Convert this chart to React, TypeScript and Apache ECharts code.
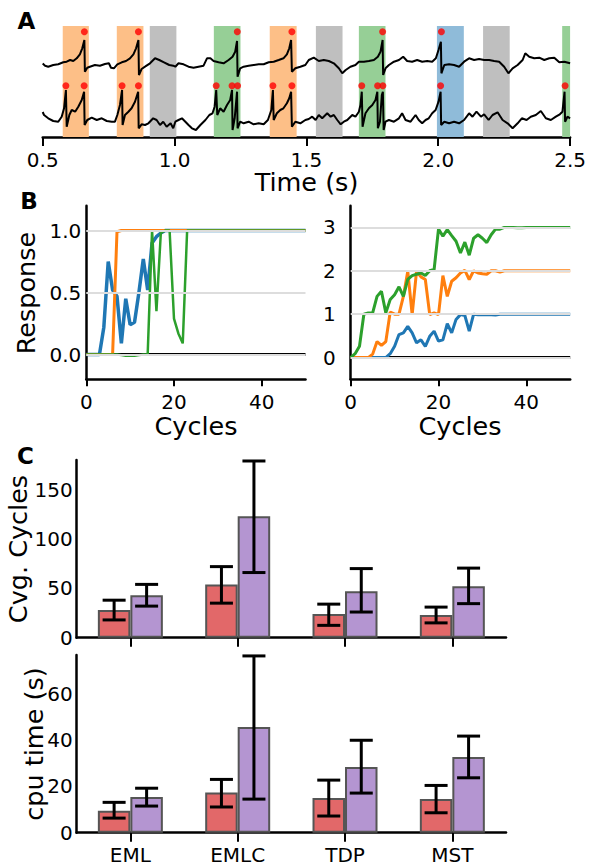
import React, { useEffect, useRef } from "react";
import * as echarts from "echarts";

// ---------- Panel A data ----------
const timeTicks = [0.5, 1.0, 1.5, 2.0, 2.5];
const spansOrange = [[0.576, 0.675], [0.781, 0.882], [1.361, 1.463]];
const spansGray = [[0.906, 1.007], [1.536, 1.637], [2.17, 2.271]];
const spansGreen = [[1.149, 1.25], [1.699, 1.8], [2.47, 2.5]];
const spansBlue = [[1.995, 2.097]];

const traceTop: number[][] = [
  [0.5, 73.5], [0.509, 71.3], [0.521, 70.3], [0.54, 72], [0.559, 72.7], [0.578, 74.7], [0.591, 75.3], [0.604, 77], [0.616, 76], [0.629, 78.7], [0.641, 82.7], [0.65, 88.7], [0.658, 97], [0.66, 65.3], [0.669, 69.3], [0.679, 70.3], [0.698, 72], [0.717, 71.3], [0.736, 73], [0.751, 73.7], [0.759, 69.3], [0.77, 68.7], [0.783, 72.7], [0.8, 74.7], [0.816, 76], [0.831, 78.7], [0.844, 82.7], [0.854, 88.7], [0.863, 97], [0.865, 62], [0.875, 68], [0.888, 70.3], [0.907, 73.7], [0.926, 78.7], [0.942, 77], [0.96, 74.7], [0.98, 72], [0.995, 71.3],
  [1.003, 70.3], [1.015, 73.7], [1.034, 72.7], [1.053, 70.3], [1.072, 69.3], [1.091, 70.3], [1.11, 71.3], [1.123, 78.7], [1.136, 78.7], [1.148, 76], [1.167, 74.7], [1.186, 73.7], [1.205, 77], [1.22, 80.3], [1.23, 85.3], [1.237, 96], [1.239, 60.3], [1.249, 68.7], [1.262, 70.3], [1.281, 71.3], [1.3, 72], [1.319, 72.7], [1.338, 72.7], [1.357, 74.7], [1.376, 75.3], [1.395, 77], [1.413, 78.7], [1.426, 82.7], [1.435, 88.7], [1.442, 97], [1.445, 65.3], [1.458, 68.7], [1.477, 70.3], [1.496, 72],
  [1.509, 77], [1.528, 79.3], [1.547, 76], [1.566, 77], [1.585, 76], [1.604, 73.7], [1.623, 68.7], [1.636, 63.7], [1.649, 67], [1.667, 70.3], [1.686, 72], [1.699, 75.3], [1.718, 75.3], [1.737, 76], [1.756, 77], [1.771, 80.3], [1.781, 85.3], [1.789, 97], [1.791, 62], [1.8, 68.7], [1.813, 72], [1.832, 75.3], [1.851, 77], [1.867, 80.3], [1.882, 76], [1.901, 75.3], [1.92, 77], [1.939, 75.3], [1.958, 76], [1.977, 75.3], [1.991, 78.7],
  [2.001, 87], [2.01, 95.3], [2.012, 63.7], [2.023, 72], [2.041, 72.7], [2.06, 72], [2.079, 70.3], [2.098, 75.3], [2.117, 78.7], [2.136, 77], [2.155, 78], [2.174, 77], [2.193, 77], [2.212, 76], [2.231, 75.3], [2.25, 70.3], [2.266, 63.7], [2.282, 68.7], [2.301, 72], [2.32, 77], [2.33, 83.7], [2.345, 80.3], [2.364, 78.7], [2.383, 79.3], [2.402, 77], [2.421, 78.7], [2.44, 79.3], [2.459, 74.7], [2.478, 75.3], [2.5, 73.7],
];

const traceBottom: number[][] = [
  [0.5, 25], [0.505, 22], [0.521, 18.7], [0.54, 16], [0.559, 15.3], [0.572, 20.3], [0.581, 28.7], [0.588, 47], [0.591, 10.3], [0.601, 22], [0.61, 27], [0.623, 25.3], [0.635, 30.3], [0.648, 37], [0.657, 45.3], [0.659, 12], [0.669, 17], [0.686, 19.3], [0.705, 17], [0.724, 18.7], [0.743, 16], [0.762, 15.3], [0.774, 15.3], [0.783, 22], [0.793, 32], [0.801, 47], [0.803, 12], [0.812, 22], [0.825, 25.3], [0.837, 28.7], [0.85, 35.3], [0.862, 45.3], [0.864, 8.7], [0.875, 12.7], [0.888, 12], [0.901, 13.7], [0.919, 18.7], [0.932, 17], [0.945, 12], [0.957, 15.3], [0.97, 10.3], [0.985, 13.7], [0.995, 8.7],
  [1.003, 15.3], [1.015, 17], [1.028, 18.7], [1.041, 15.3], [1.053, 12], [1.066, 8.7], [1.081, 7], [1.098, 12], [1.117, 17], [1.132, 22], [1.144, 23.7], [1.152, 30.3], [1.158, 47], [1.162, 22], [1.173, 28.7], [1.186, 25.3], [1.199, 32], [1.211, 37], [1.218, 47], [1.22, 7], [1.228, 18.7], [1.237, 45.3], [1.239, 8.7], [1.249, 15.3], [1.262, 13.7], [1.281, 15.3], [1.3, 12.7], [1.319, 13.7], [1.338, 12.7], [1.354, 17], [1.367, 27], [1.373, 47], [1.376, 17], [1.388, 23.7], [1.401, 27], [1.413, 28.7], [1.426, 33.7], [1.435, 38.7], [1.442, 45.3], [1.445, 10.3], [1.458, 15.3], [1.477, 13.7], [1.496, 17],
  [1.509, 18], [1.522, 20.3], [1.535, 17], [1.547, 22], [1.56, 18.7], [1.579, 23.7], [1.592, 20.3], [1.604, 22], [1.617, 17], [1.63, 12.7], [1.642, 15.3], [1.655, 17], [1.674, 22], [1.686, 20.3], [1.699, 25.3], [1.705, 32], [1.71, 45.3], [1.713, 10.3], [1.724, 23.7], [1.737, 28.7], [1.75, 32], [1.762, 37], [1.769, 45.3], [1.771, 8.7], [1.779, 15.3], [1.786, 42], [1.79, 45.3], [1.793, 7], [1.8, 15.3], [1.813, 17], [1.832, 15.3], [1.851, 18.7], [1.863, 23.7], [1.876, 17], [1.895, 15.3], [1.914, 22], [1.926, 17], [1.939, 13.7], [1.952, 17], [1.964, 18.7], [1.977, 23.7], [1.99, 27],
  [2.001, 35.3], [2.009, 45.3], [2.011, 12], [2.023, 15.3], [2.041, 13.7], [2.06, 15.3], [2.079, 13.7], [2.098, 17], [2.117, 23.7], [2.13, 20.3], [2.145, 25.3], [2.162, 20.3], [2.174, 22.7], [2.191, 17], [2.206, 22], [2.225, 24.7], [2.244, 17], [2.263, 13.7], [2.282, 8.7], [2.301, 13.7], [2.317, 18.7], [2.335, 17], [2.351, 20.3], [2.37, 22], [2.389, 26], [2.408, 18.7], [2.427, 17], [2.446, 20.3], [2.461, 22.7], [2.471, 25.3], [2.479, 45.3], [2.481, 15.3], [2.49, 20.3], [2.5, 18.7],
];

const spikesTop = [0.658, 0.863, 1.238, 1.445, 1.789, 2.012];
const spikesBottom = [0.588, 0.657, 0.801, 0.863, 1.158, 1.218, 1.239, 1.373, 1.445, 1.71, 1.77, 1.79, 2.009, 2.481];
const dotLevelTop = 105.3;
const dotLevelBottom = 51.3;

// ---------- Panel B data (cycles 0..50) ----------
const cycleTicks = [0, 20, 40];
const leftTicks = [0, 0.5, 1.0];
const rightTicks = [0, 1, 2, 3];
const leftBlue = [0, 0, 0, 0, 0.22, 0.75, 0.52, 0.47, 0.09, 0.45, 0.24, 0.26, 0.5, 0.77, 0.52, 0.9, 0.95, 0.98, 1, 1, 1, 1, 1, 1, 1, 1, 1, 1, 1, 1, 1, 1, 1, 1, 1, 1, 1, 1, 1, 1, 1, 1, 1, 1, 1, 1, 1, 1, 1, 1, 1];
const leftOrange = [0, 0, 0, 0, 0, 0, 0, 0.99, 1, 1, 1, 1, 1, 1, 1, 1, 1, 1, 1, 1, 1, 1, 1, 1, 1, 1, 1, 1, 1, 1, 1, 1, 1, 1, 1, 1, 1, 1, 1, 1, 1, 1, 1, 1, 1, 1, 1, 1, 1, 1, 1];
const leftGreen = [0, 0, 0, 0, 0, 0, 0, 0, -0.005, -0.01, -0.01, -0.01, -0.005, 0, 0, 1, 0.35, 0.98, 1, 1, 0.29, 0.17, 0.09, 1, 1, 1, 1, 1, 1, 1, 1, 1, 1, 1, 1, 1, 1, 1, 1, 1, 1, 1, 1, 1, 1, 1, 1, 1, 1, 1, 1];
const rightBlue = [0, 0, 0, 0, 0, 0, 0, 0, 0, 0.09, 0.26, 0.53, 0.57, 0.72, 0.57, 0.34, 0.41, 0.26, 0.49, 0.61, 0.38, 0.41, 0.78, 0.57, 0.88, 0.99, 0.97, 0.61, 1, 0.99, 0.99, 0.99, 0.99, 0.98, 1, 1, 1, 1, 1, 1, 1, 1, 1, 1, 1, 1, 1, 1, 1, 1, 1];
const rightOrange = [0, 0, 0, 0, 0, 0.08, 0.37, 0.28, 0.37, 1.05, 1, 1, 1.41, 1.99, 0.99, 1.99, 1.86, 1.8, 0.99, 1.03, 0.99, 1.89, 1.41, 1.76, 1.84, 1.95, 2.01, 1.8, 2, 1.95, 1.93, 1.92, 2, 2, 1.97, 2, 2, 2, 2, 2, 2, 2, 2, 2, 2, 2, 2, 2, 2, 2, 2];
const rightGreen = [0, 0.09, 0.26, 1, 1.03, 1.03, 1.41, 1.53, 1.03, 1.34, 1.45, 1.63, 1.41, 1.8, 1.89, 1.92, 1.95, 1.89, 2, 2.03, 2.96, 2.8, 2.95, 2.81, 2.68, 2.41, 2.66, 2.36, 2.75, 2.83, 2.75, 2.65, 2.83, 2.96, 2.96, 3, 3, 3, 2.99, 2.99, 3, 3, 3, 3, 3, 3, 3, 3, 3, 3, 3];
const zeroLine = [[0, 0], [50, 0]];

// ---------- Panel C data ----------
const methods = ["EML", "EMLC", "TDP", "MST"];
const cyclesRed = [28, 54, 24, 23];
const cyclesRedLo = [18, 35, 12.5, 15];
const cyclesRedHi = [38, 72, 34, 31];
const cyclesPurple = [43, 123, 47, 52];
const cyclesPurpleLo = [32, 66, 26, 34.5];
const cyclesPurpleHi = [54, 179, 70, 70.5];
const cyclesTicks = [0, 50, 100, 150];
const cpuRed = [9.5, 17.3, 15, 14.5];
const cpuRedLo = [6.3, 11.1, 7.2, 8.6];
const cpuRedHi = [13.1, 23, 22.7, 20.4];
const cpuPurple = [15.4, 45.6, 28.4, 32.7];
const cpuPurpleLo = [11.5, 14.5, 17.1, 23.7];
const cpuPurpleHi = [19.2, 76.3, 39.9, 41.7];
const cpuTicks = [0, 20, 40, 60];

const FONT = "DejaVu Sans";
const TICK_FS = 20;
const LABEL_FS = 25.5;
const BAR_W = 32.5;

const C_BLUE = "#1f77b4";
const C_ORANGE = "#ff7f0e";
const C_GREEN = "#2ca02c";

function idx(arr: number[]) {
  return arr.map((v, i) => [i, v]);
}

function axisLineStyle() {
  return { show: true, onZero: false, lineStyle: { color: "#000", width: 2.5 } };
}

function errSeries(gi: number, lo: number[], hi: number[], sign: number) {
  return {
    type: "custom",
    xAxisIndex: gi,
    yAxisIndex: gi,
    z: 6,
    data: methods.map((_, i) => [i, lo[i], hi[i]]),
    renderItem: (_params: any, api: any) => {
      const i = api.value(0);
      const pLo = api.coord([i, api.value(1)]);
      const pHi = api.coord([i, api.value(2)]);
      const x = pLo[0] + (sign * BAR_W) / 2;
      const cap = 11.5;
      const st = { stroke: "#000", lineWidth: 3 };
      return {
        type: "group",
        children: [
          { type: "line", shape: { x1: x, y1: pLo[1], x2: x, y2: pHi[1] }, style: st },
          { type: "line", shape: { x1: x - cap, y1: pLo[1], x2: x + cap, y2: pLo[1] }, style: st },
          { type: "line", shape: { x1: x - cap, y1: pHi[1], x2: x + cap, y2: pHi[1] }, style: st },
        ],
      };
    },
  };
}

function spanData(spans: number[][], color: string) {
  return spans.map((s) => [{ xAxis: s[0], itemStyle: { color } }, { xAxis: s[1] }]);
}

function buildOption() {
  const tickLabel = { color: "#000", fontSize: TICK_FS, fontFamily: FONT, lineHeight: 18 };
  const text = (t: string, x: number, y: number, opts: any = {}) => ({
    type: "text",
    x,
    y,
    rotation: opts.rotation || 0,
    style: {
      text: t,
      fill: "#000",
      fontSize: opts.fontSize || LABEL_FS,
      fontFamily: FONT,
      fontWeight: opts.bold ? "bold" : "normal",
      textAlign: "center",
      textVerticalAlign: "middle",
    },
  });

  return {
    animation: false,
    backgroundColor: "#fff",
    grid: [
      { left: 42.7, top: 26, width: 527.6, height: 111 },
      { left: 86.3, top: 205.7, width: 219.2, height: 173.6 },
      { left: 350.7, top: 205.7, width: 219.5, height: 173.6 },
      { left: 76.7, top: 460, width: 429.3, height: 177.7 },
      { left: 76.7, top: 655, width: 429.3, height: 177.7 },
    ],
    xAxis: [
      {
        type: "value", gridIndex: 0, min: 0.5, max: 2.5,
        axisLine: axisLineStyle(),
        axisTick: { show: true, customValues: timeTicks, length: 9, lineStyle: { color: "#000", width: 2 } },
        axisLabel: { ...tickLabel, customValues: timeTicks, margin: 14, formatter: (v: number) => v.toFixed(1) },
        splitLine: { show: false },
      },
      {
        type: "value", gridIndex: 1, min: 0, max: 50,
        axisLine: axisLineStyle(),
        axisTick: { show: true, customValues: cycleTicks, length: 7, lineStyle: { color: "#000", width: 2 } },
        axisLabel: { ...tickLabel, customValues: cycleTicks, margin: 14 },
        splitLine: { show: false },
      },
      {
        type: "value", gridIndex: 2, min: 0, max: 50,
        axisLine: axisLineStyle(),
        axisTick: { show: true, customValues: cycleTicks, length: 7, lineStyle: { color: "#000", width: 2 } },
        axisLabel: { ...tickLabel, customValues: cycleTicks, margin: 14 },
        splitLine: { show: false },
      },
      {
        type: "category", gridIndex: 3, data: methods,
        axisLine: axisLineStyle(),
        axisTick: { show: true, alignWithLabel: true, length: 9, lineStyle: { color: "#000", width: 2 } },
        axisLabel: { show: false },
        splitLine: { show: false },
      },
      {
        type: "category", gridIndex: 4, data: methods,
        axisLine: axisLineStyle(),
        axisTick: { show: true, alignWithLabel: true, length: 9, lineStyle: { color: "#000", width: 2 } },
        axisLabel: { ...tickLabel, margin: 13 },
        splitLine: { show: false },
      },
    ],
    yAxis: [
      { type: "value", gridIndex: 0, min: 0, max: 111, show: false },
      {
        type: "value", gridIndex: 1, min: -0.2, max: 1.2,
        axisLine: axisLineStyle(),
        axisTick: { show: false },
        axisLabel: { ...tickLabel, customValues: leftTicks, margin: 5, formatter: (v: number) => v.toFixed(1) },
        splitLine: { show: false },
      },
      {
        type: "value", gridIndex: 2, min: -0.5, max: 3.5,
        axisLine: axisLineStyle(),
        axisTick: { show: false },
        axisLabel: { ...tickLabel, customValues: rightTicks, margin: 15 },
        splitLine: { show: false },
      },
      {
        type: "value", gridIndex: 3, min: 0, max: 180,
        axisLine: axisLineStyle(),
        axisTick: { show: false },
        axisLabel: { ...tickLabel, customValues: cyclesTicks, margin: 4 },
        splitLine: { show: false },
      },
      {
        type: "value", gridIndex: 4, min: 0, max: 76.7,
        axisLine: axisLineStyle(),
        axisTick: { show: false },
        axisLabel: { ...tickLabel, customValues: cpuTicks, margin: 4 },
        splitLine: { show: false },
      },
    ],
    series: [
      // Panel A
      {
        type: "line", xAxisIndex: 0, yAxisIndex: 0, data: [], z: 1,
        markArea: {
          silent: true,
          data: [
            ...spanData(spansOrange, "#fdbf87"),
            ...spanData(spansGray, "#bfbfbf"),
            ...spanData(spansGreen, "#96cf96"),
            ...spanData(spansBlue, "#8fbbd9"),
          ],
        },
      },
      {
        type: "line", xAxisIndex: 0, yAxisIndex: 0, data: traceTop, showSymbol: false, z: 3,
        lineStyle: { color: "#000", width: 2 },
      },
      {
        type: "line", xAxisIndex: 0, yAxisIndex: 0, data: traceBottom, showSymbol: false, z: 3,
        lineStyle: { color: "#000", width: 2 },
      },
      {
        type: "scatter", xAxisIndex: 0, yAxisIndex: 0, z: 4, symbolSize: 7,
        itemStyle: { color: "#ff0000" },
        data: [...spikesTop.map((t) => [t, dotLevelTop]), ...spikesBottom.map((t) => [t, dotLevelBottom])],
      },
      // Panel B left
      {
        type: "line", xAxisIndex: 1, yAxisIndex: 1, data: [], z: 1,
        markLine: {
          silent: true, symbol: "none", label: { show: false },
          lineStyle: { color: "#dddddd", width: 2, type: "solid" },
          data: leftTicks.map((v) => ({ yAxis: v })),
        },
      },
      { type: "line", xAxisIndex: 1, yAxisIndex: 1, data: zeroLine, showSymbol: false, z: 2, lineStyle: { color: "#000", width: 3 } },
      { type: "line", xAxisIndex: 1, yAxisIndex: 1, data: idx(leftBlue), showSymbol: false, z: 3, lineStyle: { color: C_BLUE, width: 3.5 } },
      { type: "line", xAxisIndex: 1, yAxisIndex: 1, data: idx(leftOrange), showSymbol: false, z: 3, lineStyle: { color: C_ORANGE, width: 3 } },
      { type: "line", xAxisIndex: 1, yAxisIndex: 1, data: idx(leftGreen), showSymbol: false, z: 3, lineStyle: { color: C_GREEN, width: 2.5 } },
      // Panel B right
      {
        type: "line", xAxisIndex: 2, yAxisIndex: 2, data: [], z: 1,
        markLine: {
          silent: true, symbol: "none", label: { show: false },
          lineStyle: { color: "#dddddd", width: 2, type: "solid" },
          data: rightTicks.map((v) => ({ yAxis: v })),
        },
      },
      { type: "line", xAxisIndex: 2, yAxisIndex: 2, data: zeroLine, showSymbol: false, z: 2, lineStyle: { color: "#000", width: 3 } },
      { type: "line", xAxisIndex: 2, yAxisIndex: 2, data: idx(rightBlue), showSymbol: false, z: 3, lineStyle: { color: C_BLUE, width: 3 } },
      { type: "line", xAxisIndex: 2, yAxisIndex: 2, data: idx(rightOrange), showSymbol: false, z: 3, lineStyle: { color: C_ORANGE, width: 3 } },
      { type: "line", xAxisIndex: 2, yAxisIndex: 2, data: idx(rightGreen), showSymbol: false, z: 3, lineStyle: { color: C_GREEN, width: 3 } },
      // Panel C top
      {
        type: "bar", xAxisIndex: 3, yAxisIndex: 3, data: cyclesRed, barWidth: BAR_W, barGap: "0%", z: 3,
        itemStyle: { color: "#e26869", borderColor: "#555", borderWidth: 2 },
      },
      {
        type: "bar", xAxisIndex: 3, yAxisIndex: 3, data: cyclesPurple, barWidth: BAR_W, barGap: "0%", z: 3,
        itemStyle: { color: "#b495d1", borderColor: "#555", borderWidth: 2 },
      },
      errSeries(3, cyclesRedLo, cyclesRedHi, -1),
      errSeries(3, cyclesPurpleLo, cyclesPurpleHi, 1),
      // Panel C bottom
      {
        type: "bar", xAxisIndex: 4, yAxisIndex: 4, data: cpuRed, barWidth: BAR_W, barGap: "0%", z: 3,
        itemStyle: { color: "#e26869", borderColor: "#555", borderWidth: 2 },
      },
      {
        type: "bar", xAxisIndex: 4, yAxisIndex: 4, data: cpuPurple, barWidth: BAR_W, barGap: "0%", z: 3,
        itemStyle: { color: "#b495d1", borderColor: "#555", borderWidth: 2 },
      },
      errSeries(4, cpuRedLo, cpuRedHi, -1),
      errSeries(4, cpuPurpleLo, cpuPurpleHi, 1),
    ],
    graphic: [
      text("A", 26.5, 21, { bold: true, fontSize: 23 }),
      text("B", 29, 201, { bold: true, fontSize: 23 }),
      text("C", 25.5, 456, { bold: true, fontSize: 23 }),
      text("Time (s)", 306.5, 182),
      text("Response", 25.5, 293, { rotation: Math.PI / 2 }),
      text("Cycles", 196, 426),
      text("Cycles", 460, 426),
      text("Cvg. Cycles", 18, 549, { rotation: Math.PI / 2 }),
      text("cpu time (s)", 34, 744, { rotation: Math.PI / 2 }),
    ],
  };
}

export default function App() {
  const ref = useRef<HTMLDivElement>(null);
  useEffect(() => {
    if (!ref.current) return;
    const chart = echarts.init(ref.current, null, { renderer: "svg" });
    chart.setOption(buildOption() as any);
    return () => chart.dispose();
  }, []);
  return (
    <div
      ref={ref}
      style={{ position: "absolute", left: 0, top: 0, width: 589, height: 865, background: "#fff" }}
    />
  );
}
